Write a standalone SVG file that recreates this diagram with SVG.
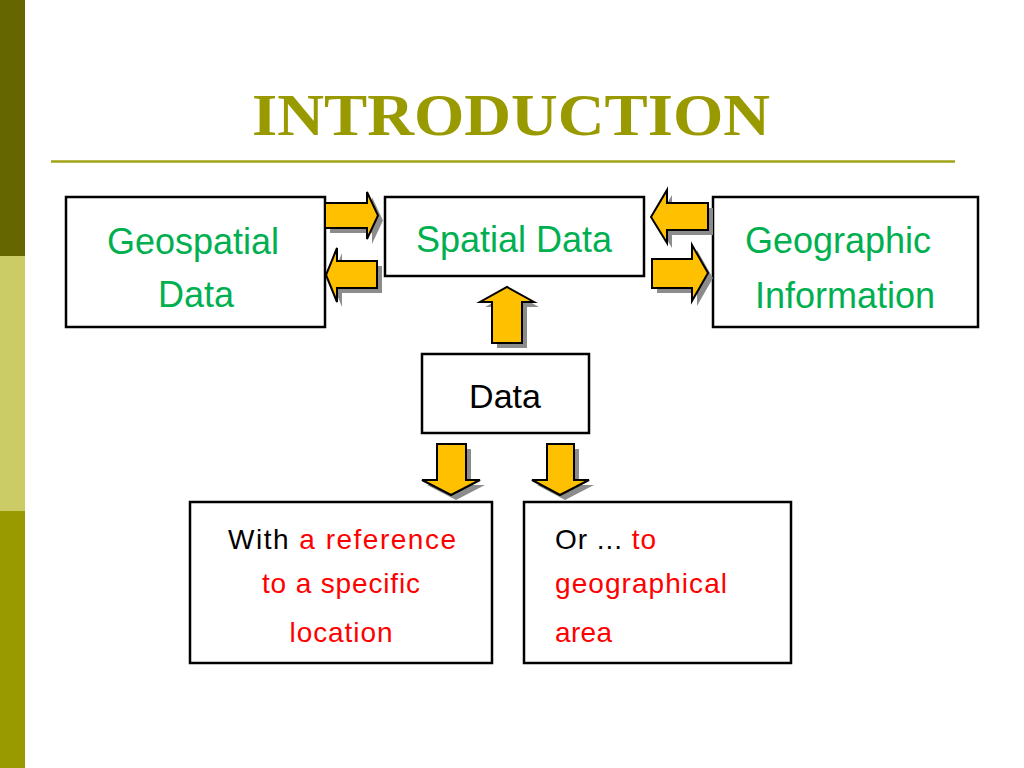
<svg xmlns="http://www.w3.org/2000/svg" xmlns:xlink="http://www.w3.org/1999/xlink" width="1024" height="768" viewBox="0 0 1024 768">
<style>
.box{fill:#FFFFFF;stroke:#000000;stroke-width:2.5}
.arrow{fill:#FFC000;stroke:#000000;stroke-width:2;stroke-linejoin:miter}
.shadow{fill:#8C8C8C;stroke:none}
.lbl{font-family:"Liberation Sans",Arial,sans-serif;font-size:36px;fill:#00B050}
.txt{font-family:"Liberation Sans",Arial,sans-serif;font-size:28px}
.big{font-size:34px}
.dark{fill:#000000}
.red{fill:#FF0000}
.title{font-family:"Liberation Serif","Times New Roman",serif;font-weight:bold;font-size:59px;fill:#999900}
</style>
<defs>
<polygon id="a1" points="325,203 367,203 367,192 378,215.5 367,239 367,228 325,228"/>
<polygon id="a2" points="377,261 337,261 337,248 326,275 337,302 337,288 377,288"/>
<polygon id="a3" points="708,203 667,203 667,190 651,217 667,243 667,230 708,230"/>
<polygon id="a4" points="652,259 692,259 692,245 708,273 692,301 692,288 652,288"/>
<polygon id="a5" points="492,343 492,302 480,302 507,287 534,302 522,302 522,343"/>
<polygon id="a6" points="437,444 466,444 466,480 480,480 451,495 422,480 437,480"/>
<polygon id="a7" points="547,444 574,444 574,480 589,480 560,495 532,480 547,480"/>
</defs>
<rect x="0" y="0" width="1024" height="768" fill="#FFFFFF"/>
<g id="sidebar">
<rect x="0" y="0" width="25" height="256" fill="#666600"/>
<rect x="0" y="256" width="25" height="255" fill="#CCCC66"/>
<rect x="0" y="511" width="25" height="257" fill="#999900"/>
</g>
<g id="title">
<text x="252" y="135" class="title" textLength="518" lengthAdjust="spacingAndGlyphs">INTRODUCTION</text>
<line x1="51" y1="161.5" x2="955" y2="161.5" stroke="#A3A31A" stroke-width="2.5"/>
</g>
<g id="node-geospatial">
<rect class="box" x="66" y="197" width="259" height="130"/>
<text class="lbl" x="193" y="254" text-anchor="middle">Geospatial</text>
<text class="lbl" x="196" y="307" text-anchor="middle">Data</text>
</g>
<g id="node-spatial">
<rect class="box" x="385" y="197" width="259" height="79"/>
<text class="lbl" x="514" y="252" text-anchor="middle">Spatial Data</text>
</g>
<g id="node-geographic">
<rect class="box" x="713" y="197" width="265" height="130"/>
<text class="lbl" x="838" y="253" text-anchor="middle">Geographic</text>
<text class="lbl" x="845" y="308" text-anchor="middle">Information</text>
</g>
<g id="node-data">
<rect class="box" x="422" y="354" width="167" height="79"/>
<text class="txt big dark" x="505" y="408" text-anchor="middle">Data</text>
</g>
<g id="node-reference">
<rect class="box" x="190" y="502" width="302" height="161"/>
<text class="txt" x="342" y="549" text-anchor="middle" textLength="228" lengthAdjust="spacing"><tspan class="dark">With </tspan><tspan class="red">a reference</tspan></text>
<text class="txt red" x="341" y="593" text-anchor="middle" textLength="158" lengthAdjust="spacing">to a specific</text>
<text class="txt red" x="341" y="642" text-anchor="middle" textLength="103" lengthAdjust="spacing">location</text>
</g>
<g id="node-area">
<rect class="box" x="524" y="502" width="267" height="161"/>
<text class="txt" x="555" y="549" textLength="101" lengthAdjust="spacing"><tspan class="dark">Or ... </tspan><tspan class="red">to</tspan></text>
<text class="txt red" x="555" y="593" textLength="172" lengthAdjust="spacing">geographical</text>
<text class="txt red" x="555" y="642" textLength="57" lengthAdjust="spacing">area</text>
</g>
<g id="connectors">
<use xlink:href="#a1" class="shadow" transform="translate(5,5)"/>
<use xlink:href="#a1" class="arrow"/>
<use xlink:href="#a2" class="shadow" transform="translate(5,5)"/>
<use xlink:href="#a2" class="arrow"/>
<use xlink:href="#a3" class="shadow" transform="translate(5,5)"/>
<use xlink:href="#a3" class="arrow"/>
<use xlink:href="#a4" class="shadow" transform="translate(5,5)"/>
<use xlink:href="#a4" class="arrow"/>
<use xlink:href="#a5" class="shadow" transform="translate(5,5)"/>
<use xlink:href="#a5" class="arrow"/>
<use xlink:href="#a6" class="shadow" transform="translate(5,5)"/>
<use xlink:href="#a6" class="arrow"/>
<use xlink:href="#a7" class="shadow" transform="translate(5,5)"/>
<use xlink:href="#a7" class="arrow"/>
</g>
</svg>
